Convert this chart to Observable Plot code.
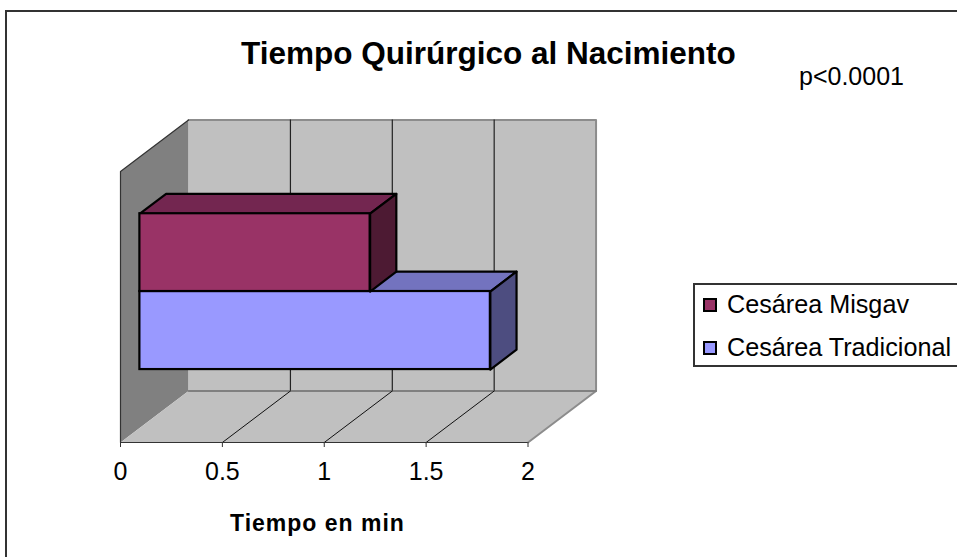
<!DOCTYPE html>
<html><head><meta charset="utf-8">
<script src="https://cdn.jsdelivr.net/npm/d3@7"></script>
<script src="https://cdn.jsdelivr.net/npm/@observablehq/plot@0.6"></script>
<style>
html,body{margin:0;padding:0;background:#fff;overflow:hidden;width:957px;height:557px}
#wrap{position:relative;width:957px;height:557px;overflow:hidden;font-family:"Liberation Sans",Arial,sans-serif;color:#000}
#frame{position:absolute;left:5px;top:10px;width:1000px;height:600px;border:2px solid #333;box-sizing:border-box}
#chart{position:absolute;left:0;top:0}
#chart svg{display:block;background:transparent}
.t{position:absolute;white-space:nowrap;line-height:1}
#title{left:241px;top:38px;font-size:31.5px;font-weight:bold}
#p{left:799px;top:64px;font-size:25px}
#xlabel{left:230px;top:512px;font-size:23px;font-weight:bold;letter-spacing:1px}
#legend{position:absolute;left:693px;top:283px;width:300px;height:84px;border:2px solid #333;box-sizing:border-box}
.sw{position:absolute;left:703px;width:14px;height:14px;border:2px solid #000;box-sizing:border-box}
.lt{left:727px;font-size:25.2px}
</style></head><body>
<div id="wrap">
<div id="frame"></div>
<div id="chart"></div>
<div class="t" id="title">Tiempo Quirúrgico al Nacimiento</div>
<div class="t" id="p">p&lt;0.0001</div>
<div class="t" id="xlabel">Tiempo en min</div>
<div id="legend"></div>
<div id="legendItems"></div>
</div>
<script>
// Data
const categories = ["Cesárea Misgav", "Cesárea Tradicional"];
const minutes = [1.13, 1.72];
const frontColors = ["#993366", "#9999FF"];
const topColors = ["#732650", "#7373BF"];
const sideColors = ["#4D1A33", "#4D4D80"];
const xTicks = [0, 0.5, 1, 1.5, 2];
const gridTicks = [0.5, 1, 1.5];
const barLow = [0.503, 0.215];
const barHigh = [0.79, 0.503];

// Oblique projection of the depth axis, in x and y scale units per unit of depth
const DX = 0.334, DY = 0.19;
const barFront = 0.285, barBack = 0.67;
const pt = (v, h, t) => ({x: v + t * DX, y: h + t * DY});
const face = (pts, fill, stroke, strokeWidth) =>
  Plot.line(pts, {x: "x", y: "y", curve: "linear-closed", fill, stroke, strokeWidth});

const marks = [];
// Walls and floor
marks.push(face([pt(0,0,0), pt(0,1,0), pt(0,1,1), pt(0,0,1)], "#808080", "none", 0));
marks.push(face([pt(0,0,1), pt(0,1,1), pt(2,1,1), pt(2,0,1)], "#C0C0C0", "none", 0));
marks.push(face([pt(0,0,0), pt(0,0,1), pt(2,0,1), pt(2,0,0)], "#C0C0C0", "none", 0));
// Wall edges
marks.push(Plot.line([pt(0,1,1), pt(2,1,1), pt(2,0,1), pt(2,0,0)], {x:"x", y:"y", stroke:"#8c8c8c", strokeWidth:2}));
marks.push(Plot.line([pt(0,0,1), pt(2,0,1)], {x:"x", y:"y", stroke:"#808080", strokeWidth:2}));
marks.push(Plot.line([pt(0,0,0), pt(0,1,0), pt(0,1,1)], {x:"x", y:"y", stroke:"#333", strokeWidth:1.2}));
// Gridlines on back wall and floor
marks.push(Plot.ruleX(gridTicks, {x: d => d + DX, y1: DY, y2: 1 + DY, stroke:"#222", strokeWidth:1.2, strokeOpacity:1}));
for (const g of gridTicks)
  marks.push(Plot.line([pt(g,0,0), pt(g,0,1)], {x:"x", y:"y", stroke:"#111", strokeWidth:1}));
marks.push(Plot.ruleY([0], {x1:0, x2:2, stroke:"#333", strokeWidth:1.2, strokeOpacity:1}));

// Bars: lower one first so the upper one overlaps its top face
for (const i of [1, 0]) {
  const v = minutes[i], lo = barLow[i], hi = barHigh[i];
  marks.push(face([pt(0,hi,barFront), pt(0,hi,barBack), pt(v,hi,barBack), pt(v,hi,barFront)], topColors[i], "#000", 2.2));
  marks.push(face([pt(v,lo,barFront), pt(v,hi,barFront), pt(v,hi,barBack), pt(v,lo,barBack)], sideColors[i], "#000", 2.2));
  marks.push(Plot.rect([i], {
    x1: () => barFront * DX, x2: j => minutes[j] + barFront * DX,
    y1: j => barLow[j] + barFront * DY, y2: j => barHigh[j] + barFront * DY,
    fill: frontColors[i], stroke: "#000", strokeWidth: 2.2
  }));
}
marks.push(Plot.axisX({ticks: xTicks, tickSize: 5, tickPadding: 15, tickFormat: d => String(d),
  fontSize: 25, label: null, stroke:"#333", fill:"#000"}));

const chart = Plot.plot({
  width: 957, height: 557,
  marginLeft: 120, marginRight: 429.5, marginTop: 171, marginBottom: 115,
  x: {domain: [0, 2]},
  y: {domain: [0, 1], axis: null},
  style: {fontFamily: '"Liberation Sans", Arial, sans-serif', background: "transparent", overflow: "visible"},
  marks
});
document.getElementById("chart").append(chart);

// Legend
const items = document.getElementById("legendItems");
categories.forEach((c, i) => {
  const top = 298 + i * 42.5;
  const s = document.createElement("div");
  s.className = "sw"; s.style.top = top + "px"; s.style.background = frontColors[i];
  const t = document.createElement("div");
  t.className = "t lt"; t.style.top = (top - 6) + "px"; t.textContent = c;
  items.append(s, t);
});
</script>
</body></html>
